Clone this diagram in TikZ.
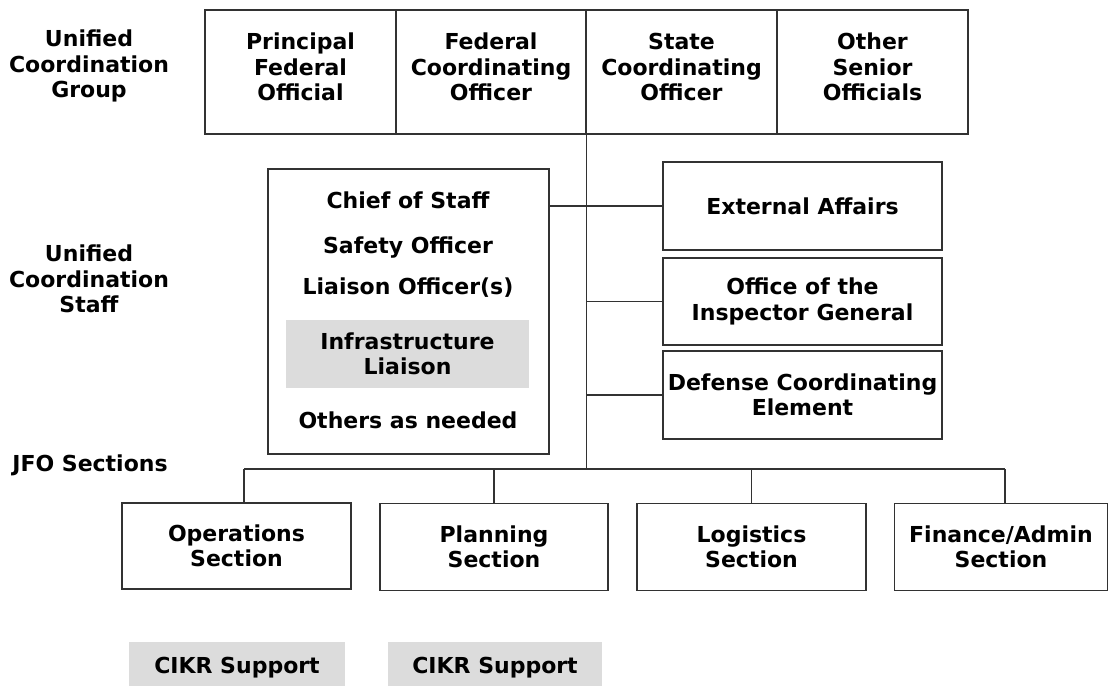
\documentclass[tikz,border=0pt]{standalone}
\usepackage{fontspec}
\setmainfont{DejaVu Sans}
\definecolor{cikrgray}{RGB}{220,220,220}
\definecolor{linegray}{RGB}{50,50,50}
\begin{document}
\begin{tikzpicture}[x=0.75pt,y=-0.75pt,
  font=\fontsize{16.5}{19}\selectfont\bfseries,
  box/.style={draw=linegray,line width=1.1pt,align=center,inner sep=0pt},
  cikr/.style={fill=cikrgray,align=center,inner sep=0pt},
  uptext/.style={align=center,yshift=3.75pt},
  conn/.style={draw=linegray,line width=1.1pt}]
\def\u{0.75pt}
\useasboundingbox (0,0) rectangle (1109,686);
% row labels
\node[align=center] (ucg) at (89,66) {Unified\\Coordination\\Group};
\node[align=center] (ucs) at (89,279) {Unified\\Coordination\\Staff};
\node (jfo) at (90,465) {JFO Sections};
% unified coordination group
\node[box,minimum width=191*\u,minimum height=124*\u,label={[uptext]center:Principal\\Federal\\Official}] (pfo) at (300.5,72) {};
\node[box,minimum width=190*\u,minimum height=124*\u,label={[uptext]center:Federal\\Coordinating\\Officer}] (fco) at (491,72) {};
\node[box,minimum width=191*\u,minimum height=124*\u,label={[uptext]center:State\\Coordinating\\Officer}] (sco) at (681.5,72) {};
\node[box,minimum width=191*\u,minimum height=124*\u,label={[uptext]center:Other\\Senior\\Officials}] (oso) at (872.5,72) {};
% staff
\node[box,minimum width=281*\u,minimum height=285*\u] (staff) at (408.5,311.5) {};
\node (chief) at (408,200) {Chief of Staff};
\node (safety) at (408,248) {Safety Officer};
\node (liaison) at (408,288) {Liaison Officer(s)};
\node[cikr,minimum width=243*\u,minimum height=68*\u] (infra) at (407.5,354) {Infrastructure\\Liaison};
\node (others) at (408,420) {Others as needed};
\node[box,minimum width=279*\u,minimum height=88*\u] (ext) at (802.5,206) {External Affairs};
\node[box,minimum width=279*\u,minimum height=87*\u] (oig) at (802.5,301.5) {Office of the\\Inspector General};
\node[box,minimum width=279*\u,minimum height=88*\u] (dce) at (802.5,395) {Defense Coordinating\\Element};
% sections
\node[box,minimum width=229*\u,minimum height=86*\u] (ops) at (236.5,546) {Operations\\Section};
\node[box,minimum width=228*\u,minimum height=87*\u] (plan) at (494,547) {Planning\\Section};
\node[box,minimum width=229*\u,minimum height=87*\u] (log) at (751.5,547) {Logistics\\Section};
\node[box,minimum width=213*\u,minimum height=87*\u] (fin) at (1001,547) {Finance/Admin\\Section};
\node[cikr,minimum width=216*\u,minimum height=44*\u,text height=18pt,text depth=3.9pt] (opscikr) at (237,664) {CIKR Support};
\node[cikr,minimum width=214*\u,minimum height=44*\u,text height=18pt,text depth=3.9pt] (plancikr) at (495,664) {CIKR Support};
% connectors
\coordinate (hub) at (fco.south east |- 0,469);
\draw[conn] (fco.south east) -- (hub);
\draw[conn] (staff.east |- ext.west) -- (ext.west);
\draw[conn] (oig.west -| hub) -- (oig.west);
\draw[conn] (dce.west -| hub) -- (dce.west);
\draw[conn] ([xshift=7.5*\u]ops.north |- hub) -- ([xshift=4*\u]fin.north |- hub);
\foreach \s/\dx in {ops/7.5,plan/0,log/0,fin/4}
  \draw[conn] ([xshift=\dx*\u]\s.north |- hub) -- ([xshift=\dx*\u]\s.north);
\end{tikzpicture}
\end{document}
